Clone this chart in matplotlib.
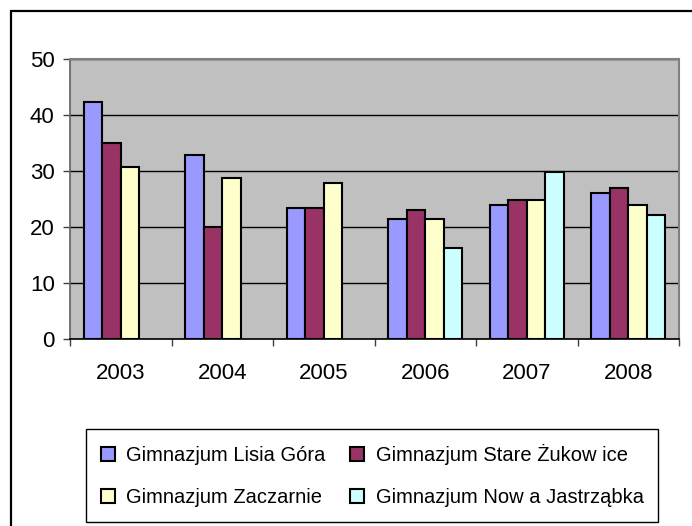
import matplotlib
matplotlib.use("Agg")
import matplotlib.pyplot as plt
import numpy as np
from matplotlib.patches import Rectangle

plt.rcParams['font.family'] = ['Liberation Sans', 'DejaVu Sans']

years = ["2003", "2004", "2005", "2006", "2007", "2008"]
series_names = ["Gimnazjum Lisia Góra", "Gimnazjum Stare Żukow ice",
                "Gimnazjum Zaczarnie", "Gimnazjum Now a Jastrząbka"]
lisia_gora = [42.3, 32.9, 23.4, 21.4, 23.9, 26.1]
stare_zukowice = [35.0, 20.0, 23.4, 23.1, 24.8, 26.9]
zaczarnie = [30.8, 28.7, 27.8, 21.4, 24.8, 23.9]
nowa_jastrzabka = [np.nan, np.nan, np.nan, 16.2, 29.9, 22.2]
colors = ["#9999FF", "#993366", "#FFFFCC", "#CCFFFF"]
yticks = [0, 10, 20, 30, 40, 50]

W, H = 692, 526
fig = plt.figure(figsize=(W / 100, H / 100), dpi=100)
fig.patch.set_facecolor("white")

# outer frame
fig.add_artist(Rectangle((11 / W, -0.1), 1.2, 1 - 11 / H + 0.1, transform=fig.transFigure,
                         fill=False, edgecolor="black", linewidth=1.6))

ax = fig.add_axes([70 / W, 1 - 339 / H, 609 / W, 280 / H])
ax.set_facecolor("#C0C0C0")

x = np.arange(len(years))
bw = 0.182
data = [lisia_gora, stare_zukowice, zaczarnie, nowa_jastrzabka]
handles = []
for i, (vals, c) in enumerate(zip(data, colors)):
    b = ax.bar(x + (i - 1.5) * bw, vals, width=bw, color=c, edgecolor="black",
               linewidth=1.5, zorder=3)
    handles.append(b)

ax.set_xlim(-0.5, len(years) - 0.5)
ax.set_ylim(0, 50)
ax.set_yticks(yticks)
ax.set_yticklabels([str(v) for v in yticks])
ax.yaxis.grid(True, color="black", linewidth=1.0, zorder=1)
ax.set_axisbelow(True)

ax.set_xticks(x)
ax.set_xticklabels(years)
ax.set_xticks(np.arange(len(years) + 1) - 0.5, minor=True)
ax.tick_params(axis="x", which="major", length=0, pad=17, labelsize=16)
ax.tick_params(axis="x", which="minor", length=5, width=1, color="#404040", direction="out")
ax.tick_params(axis="y", length=5, width=1, color="#404040", pad=6, labelsize=16)

for s in ["top", "right"]:
    ax.spines[s].set_color("#808080")
    ax.spines[s].set_linewidth(1.5)
ax.spines["left"].set_color("#606060")
ax.spines["left"].set_linewidth(1.2)
ax.spines["bottom"].set_color("black")
ax.spines["bottom"].set_linewidth(1.2)

order = [0, 2, 1, 3]
leg = fig.legend([handles[k] for k in order], [series_names[k] for k in order],
                 ncol=2, loc="center left",
                 bbox_to_anchor=(86 / W, 1 - 522 / H, 572 / W, 93 / H), mode="expand",
                 fontsize=14.5, frameon=True, fancybox=False, edgecolor="black",
                 framealpha=1, handlelength=0.7, handleheight=0.7, handletextpad=0.55,
                 labelspacing=1.15, borderpad=0.72, borderaxespad=0, columnspacing=1.0)
leg.get_frame().set_linewidth(1.0)
for p in leg.get_patches():
    p.set_linewidth(1.5)

fig.savefig("out.png", dpi=100)
